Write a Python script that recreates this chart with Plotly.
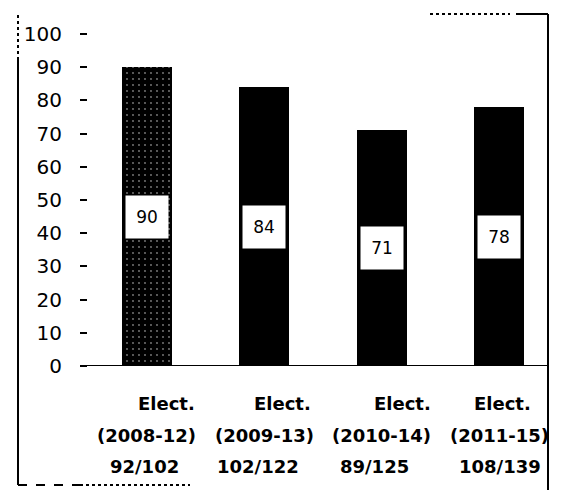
import plotly.graph_objects as go

# ---- data ----
categories = ["Elect.", "Elect.", "Elect.", "Elect."]
periods = ["(2008-12)", "(2009-13)", "(2010-14)", "(2011-15)"]
counts = ["92/102", "102/122", "89/125", "108/139"]
values = [90, 84, 71, 78]
y_ticks = [0, 10, 20, 30, 40, 50, 60, 70, 80, 90, 100]

# label line offsets (style), as seen in the scanned original
line1_shift = [20, 18, 21, 3]
line3_shift = [-2, -6, -7, 1]

# page has an 8px body margin; compensate so that the picture lines up
OFF = 8
W, H = 573 - OFF, 493 - OFF
L, R, T, B = 88 - OFF, 28, 34 - OFF, 127
pw, ph = W - L - R, H - T - B

def px(x):
    return (x - OFF - L) / pw

def py(y):
    return (H - B - (y - OFF)) / ph

xs = list(range(len(values)))

fig = go.Figure()
fig.add_trace(go.Bar(
    x=xs, y=values, width=0.425,
    marker=dict(
        color="black",
        line=dict(width=0),
        pattern=dict(
            shape=[".", "", "", ""],
            fgcolor="white", bgcolor="black",
            size=6, solidity=0.07, fillmode="overlay",
        ),
    ),
    showlegend=False,
))

annotations = []
for i, v in enumerate(values):
    annotations.append(dict(
        x=i, y=v / 2, xref="x", yref="y", text=str(v), showarrow=False,
        bgcolor="white", width=40, height=40,
        font=dict(family="DejaVu Sans", size=17, color="black"),
    ))
    lines = [(categories[i], 403, line1_shift[i]),
             (periods[i], 435, 0),
             (counts[i], 466, line3_shift[i])]
    for txt, ypix, sh in lines:
        annotations.append(dict(
            x=i, y=py(ypix), xref="x", yref="paper", text=txt, showarrow=False,
            yanchor="middle", xanchor="center", xshift=sh,
            font=dict(family="DejaVu Sans", size=18, color="black", weight="bold"),
        ))

shapes = [
    # baseline
    dict(type="line", xref="paper", yref="y", x0=px(80), x1=px(547), y0=0, y1=0,
         line=dict(color="black", width=2)),
    # frame pieces
    dict(type="line", xref="paper", yref="paper", x0=px(18), x1=px(18), y0=py(15), y1=py(60),
         line=dict(color="black", width=2, dash="dot")),
    dict(type="line", xref="paper", yref="paper", x0=px(18), x1=px(18), y0=py(60), y1=py(485),
         line=dict(color="black", width=2)),
    dict(type="line", xref="paper", yref="paper", x0=px(18), x1=px(80), y0=py(485), y1=py(485),
         line=dict(color="black", width=2, dash="dash")),
    dict(type="line", xref="paper", yref="paper", x0=px(80), x1=px(190), y0=py(485), y1=py(485),
         line=dict(color="black", width=2, dash="dot")),
    dict(type="line", xref="paper", yref="paper", x0=px(548), x1=px(548), y0=py(14), y1=py(490),
         line=dict(color="black", width=2)),
    dict(type="line", xref="paper", yref="paper", x0=px(430), x1=px(510), y0=py(14), y1=py(14),
         line=dict(color="black", width=2, dash="dot")),
    dict(type="line", xref="paper", yref="paper", x0=px(516), x1=px(548), y0=py(14), y1=py(14),
         line=dict(color="black", width=2)),
]

fig.update_layout(
    width=W, height=H,
    margin=dict(l=L, r=R, t=T, b=B),
    paper_bgcolor="white", plot_bgcolor="white",
    xaxis=dict(range=[-0.5, 3.39], showticklabels=False, showgrid=False,
               zeroline=False, showline=False, ticks=""),
    yaxis=dict(range=[0, 100], tickvals=y_ticks, showgrid=False, zeroline=False,
               showline=False, ticks="outside", ticklen=7, tickwidth=2, tickcolor="black",
               ticklabelstandoff=14,
               tickfont=dict(family="DejaVu Sans", size=20, color="black")),
    annotations=annotations,
    shapes=shapes,
    bargap=0,
)

fig.write_html("out.html")
